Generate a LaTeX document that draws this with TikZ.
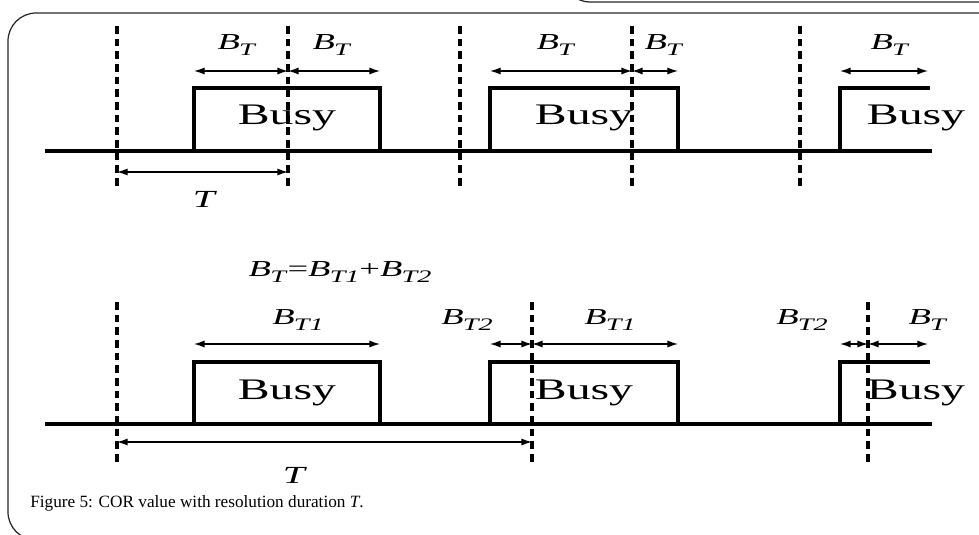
\documentclass[tikz,border=0pt]{standalone}
\usepackage{fontspec}
\setmainfont{Liberation Serif}
\usetikzlibrary{arrows.meta}

% the chart lettering is stretched sideways
\newcommand{\wide}[1]{\scalebox{1.6}[1]{#1}}
\newcommand{\bsym}[1]{\textit{B}\kern-0.02em\raisebox{-0.3em}{\fontsize{10}{10}\selectfont\textit{T#1}}}

\begin{document}
\begin{tikzpicture}[
    x=0.02cm, y=-0.02cm,
    >={Latex[length=6pt,width=4pt]},
    signal/.style={line width=1.8pt, line cap=rect},
    slot/.style={line width=1.9pt, dash pattern=on 4.4pt off 2.8pt},
    span/.style={<->, line width=0.75pt},
    lbl/.style={inner sep=0pt, font=\fontsize{13}{15}\selectfont},
    busy/.style={inner sep=0pt, font=\fontsize{17}{20}\selectfont},
    frame/.style={draw=black!85, line width=0.7pt}
]
\clip (0,0) rectangle (979,534);

% page frame
\draw[frame, rounded corners=14pt] (565,-60) rectangle (1020,2);
\draw[frame, rounded corners=16pt] (8,13) rectangle (1020,540);

% ---- upper timeline ----
\foreach \n/\x in {a/117,b/288,c/460,d/632,e/800} {
    \coordinate (ut\n) at (\x,26);
    \coordinate (ub\n) at (\x,190);
    \draw[slot] (ut\n) -- (ub\n);
}
\coordinate (ustart) at (47,151);
\coordinate (uend) at (930,151);
\draw[signal] (ustart) -- (uend);
\draw[signal] (194,151) -- (194,88) -- (380,88) -- (380,151);
\draw[signal] (490,151) -- (490,88) -- (678,88) -- (678,151);
\draw[signal] (840,151) -- (840,88) -- (928,88);
\node[busy] (ubusy1) at (287,118) {\wide{Busy}};
\node[busy] (ubusy2) at (584,118) {\wide{Busy}};
\node[busy] (ubusy3) at (916,118) {\wide{Busy}};

\foreach \n/\x in {1/194,2/288,3/380,4/490,5/632,6/678,7/840,8/928}
    \coordinate (ua\n) at (\x,71);
\draw[span] (ua1) -- (ua2);
\draw[span] (ua2) -- (ua3);
\draw[span] (ua4) -- (ua5);
\draw[span] (ua5) -- (ua6);
\draw[span] (ua7) -- (ua8);
\foreach \x in {237,332,556,664,890}
    \node[lbl] at (\x,45) {\wide{\bsym{}}};

\coordinate (uT1) at (117,172);
\coordinate (uT2) at (288,172);
\draw[span] (uT1) -- (uT2);
\node[lbl, font=\fontsize{14}{16}\selectfont] (uTlbl) at (205,199) {\wide{\textit{T}}};

% ---- lower timeline ----
\node[lbl] (sum) at (340,272) {\wide{\bsym{}=\bsym{1}+\bsym{2}}};

\foreach \n/\x in {a/117,b/532,c/868} {
    \coordinate (lt\n) at (\x,302);
    \coordinate (lb\n) at (\x,464);
    \draw[slot] (lt\n) -- (lb\n);
}
\coordinate (lstart) at (47,424);
\coordinate (lend) at (930,424);
\draw[signal] (lstart) -- (lend);
\draw[signal] (194,424) -- (194,362) -- (380,362) -- (380,424);
\draw[signal] (490,424) -- (490,362) -- (678,362) -- (678,424);
\draw[signal] (840,424) -- (840,362) -- (928,362);
\node[busy] (lbusy1) at (287,393) {\wide{Busy}};
\node[busy] (lbusy2) at (584,393) {\wide{Busy}};
\node[busy] (lbusy3) at (916,393) {\wide{Busy}};

\foreach \n/\x in {1/194,2/380,3/490,4/532,5/678,6/840,7/868,8/928}
    \coordinate (la\n) at (\x,344);
\draw[span] (la1) -- (la2);
\draw[span] (la3) -- (la4);
\draw[span] (la4) -- (la5);
\draw[span] (la6) -- (la7);
\draw[span] (la7) -- (la8);
\node[lbl] at (298,320) {\wide{\bsym{1}}};
\node[lbl] at (467,320) {\wide{\bsym{2}}};
\node[lbl] at (610,320) {\wide{\bsym{1}}};
\node[lbl] at (802,320) {\wide{\bsym{2}}};
\node[lbl] at (928,320) {\wide{\bsym{}}};

\coordinate (lT1) at (117,442);
\coordinate (lT2) at (532,442);
\draw[span] (lT1) -- (lT2);
\node[lbl, font=\fontsize{14}{16}\selectfont] (lTlbl) at (295,475) {\wide{\textit{T}}};

% caption
\node[anchor=base west, inner sep=0pt, font=\fontsize{9.8}{12}\selectfont] (cap) at (30,507)
    {Figure 5: COR value with resolution duration \textit{T}.};
\end{tikzpicture}
\end{document}
